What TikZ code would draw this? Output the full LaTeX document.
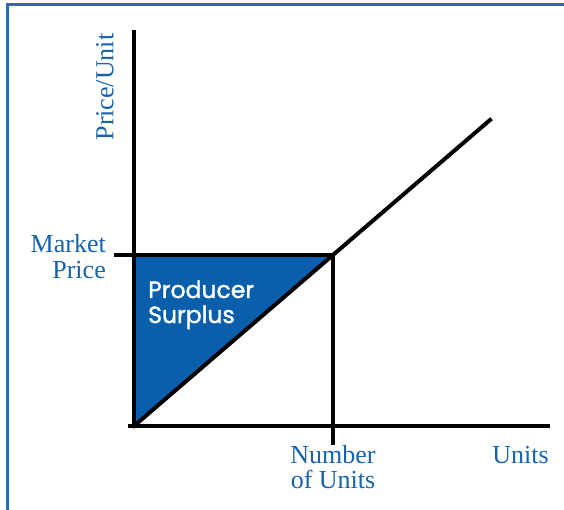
\documentclass[tikz,border=0pt]{standalone}
\usepackage{fontspec}
\setmainfont{Liberation Serif}
\newfontfamily\psfont[FakeBold=1.5]{Poppins}
\definecolor{frameblue}{HTML}{1E6EBE}
\definecolor{textblue}{HTML}{1763AB}
\definecolor{fillblue}{HTML}{0A5FAD}
\tikzset{
  axisline/.style={line width=4pt, line cap=rect},
  lbl/.style={text=textblue, font=\fontsize{26}{25}\selectfont, inner sep=0pt},
  pslbl/.style={text=white, font=\psfont\fontsize{23.5}{25}\selectfont, inner sep=0pt, align=left}
}
\begin{document}
\begin{tikzpicture}[x=1pt,y=-1pt]
\useasboundingbox (0,0) rectangle (564,510);
\clip (0,0) rectangle (564,510);
% frame
\draw[frameblue, line width=3pt] (7,520) -- (7,5) -- (580,5);
% coordinates
\coordinate (O) at (134,426);
\coordinate (ytop) at (134,32);
\coordinate (xstart) at (130,426);
\coordinate (xend) at (548,426);
\coordinate (mpl) at (116,255);
\coordinate (mpy) at (134,255);
\coordinate (mp) at (333,255);
\coordinate (tick) at (333,443);
\coordinate (send) at (490,120);
% surplus triangle
\fill[fillblue] (O) -- (mpy) -- (mp) -- cycle;
% lines
\draw[axisline] (mpl) -- (mp);
\draw[axisline] (mp) -- (tick);
\draw[axisline] (O) -- (send);
\draw[axisline] (ytop) -- (O);
\draw[axisline] (xstart) -- (xend);
% labels
\node[lbl, rotate=90] (pu) at (105,87) {Price/Unit};
\node[lbl, align=right, anchor=base east] (mkt) at (106,278) {Market\\Price};
\node[lbl, align=center, anchor=base] (nou) at (333,488) {Number\\of Units};
\node[lbl, anchor=base east] (units) at (549,463) {Units};
\node[pslbl, anchor=base west] (ps) at (148,323) {Producer\\Surplus};
\end{tikzpicture}
\end{document}
